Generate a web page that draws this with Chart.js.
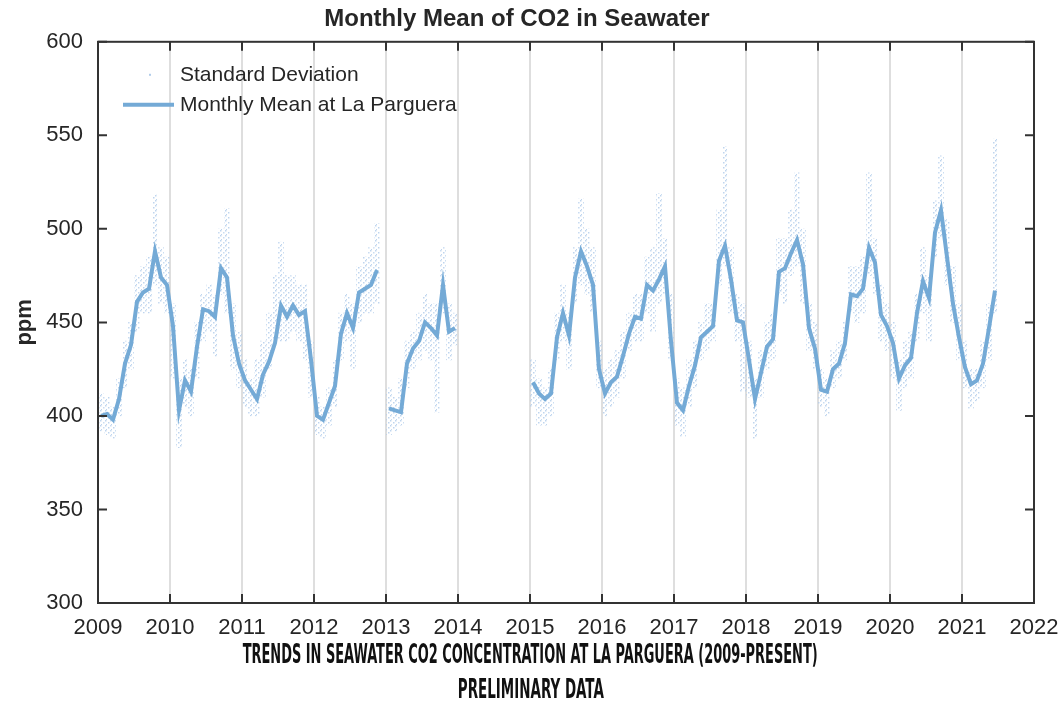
<!DOCTYPE html>
<html>
<head>
<meta charset="utf-8">
<title>Monthly Mean of CO2 in Seawater</title>
<script src="https://cdn.jsdelivr.net/npm/chart.js@4.4.0/dist/chart.umd.min.js"></script>
<style>
  body { margin: 0; background: #fff; }
  #wrap { position: relative; width: 1061px; height: 701px; overflow: hidden; }
  #chartBox { position: absolute; left: 0; top: 0; width: 1061px; height: 645px; }
  .caption { position: absolute; left: 0; width: 1061px; text-align: center; }
  .caption span {
    display: inline-block;
    font-family: "DejaVu Sans Condensed", "DejaVu Sans", sans-serif;
    font-stretch: condensed;
    font-weight: bold;
    font-size: 26px;
    line-height: 26px;
    color: #111;
    transform-origin: center center;
  }
</style>
</head>
<body>
<div id="wrap">
  <div id="chartBox"><canvas id="co2"></canvas></div>
  <div class="caption" id="cap1" style="top:641px"><span>TRENDS IN SEAWATER CO2 CONCENTRATION AT LA PARGUERA (2009-PRESENT)</span></div>
  <div class="caption" id="cap2" style="top:676px"><span>PRELIMINARY DATA</span></div>
</div>
<script>
// years covered, one row of 12 months each
const years = [2009, 2010, 2011, 2012, 2013, 2014, 2015, 2016, 2017, 2018, 2019, 2020, 2021]

// monthly mean pCO2 (ppm), Jan..Dec per year, null = no data
const monthlyMean = [
    400, 401, 398, 409, 428, 438, 461, 466, 468, 488, 474, 470,   // 2009
    448, 403, 419, 413, 437, 457, 456, 453, 479, 474, 443, 428,   // 2010
    419, 414, 409, 422, 429, 439, 459, 453, 459, 454, 456, 430,   // 2011
    400, 398, 407, 416, 444, 455, 447, 466, 468, 470, 478, null,  // 2012
    404, 403, 402, 428, 436, 440, 450, 447, 443, 470, 445, 447,   // 2013
    null, null, null, null, null, null, null, null, null, null, null, null, // 2014
    418, 412, 409, 412, 442, 455, 443, 474, 488, 480, 470, 425,   // 2015
    412, 418, 421, 432, 444, 453, 452, 470, 467, 473, 480, 440,   // 2016
    407, 403, 416, 427, 442, 445, 448, 483, 491, 473, 451, 450,   // 2017
    430, 409, 423, 437, 441, 477, 479, 487, 494, 481, 447, 436,   // 2018
    414, 413, 425, 428, 439, 465, 464, 468, 490, 482, 454, 448,   // 2019
    439, 420, 427, 431, 455, 472, 463, 498, 510, 485, 460, 442,   // 2020
    426, 417, 419, 428, 447, 467, null, null, null, null, null, null // 2021
]

// spread of the standard deviation dots (low / high ppm) per month
const sdLow = [
    392, 390, 388, 400, 415, 425, 445, 455, 455, 470, 460, 455,
    420, 383, 405, 400, 420, 440, 445, 432, 465, 455, 425, 415,
    405, 400, 400, 410, 425, 440, 440, 440, 445, 440, 430, 410,
    390, 388, 395, 405, 430, 440, 425, 450, 455, 455, 460, null,
    390, 392, 395, 415, 425, 430, 435, 430, 402, 455, 430, 438,
    null, null, null, null, null, null, null, null, null, null, null, null,
    405, 395, 395, 400, 430, 440, 425, 460, 470, 465, 455, 415,
    400, 405, 410, 420, 435, 440, 440, 455, 445, 460, 465, 430,
    395, 389, 405, 415, 430, 435, 440, 470, 480, 455, 440, 413,
    410, 388, 410, 425, 430, 465, 460, 475, 480, 460, 435, 425,
    405, 400, 415, 420, 430, 455, 450, 455, 475, 465, 440, 435,
    420, 403, 415, 420, 440, 455, 440, 485, 495, 470, 450, 430,
    415, 404, 408, 415, 430, 455, null, null, null, null, null, null
]
const sdHigh = [
    412, 410, 405, 420, 440, 450, 475, 480, 485, 518, 490, 485,
    460, 420, 430, 425, 450, 465, 470, 465, 500, 511, 460, 445,
    430, 420, 430, 440, 455, 475, 493, 475, 475, 470, 470, 440,
    410, 405, 415, 430, 455, 465, 460, 480, 485, 490, 503, null,
    415, 410, 420, 440, 445, 455, 465, 460, 460, 490, 460, 455,
    null, null, null, null, null, null, null, null, null, null, null, null,
    430, 420, 415, 425, 455, 470, 455, 490, 516, 500, 490, 440,
    425, 430, 435, 445, 455, 465, 465, 485, 490, 519, 495, 465,
    420, 415, 430, 440, 450, 460, 460, 510, 544, 490, 465, 460,
    440, 420, 435, 450, 455, 495, 495, 510, 530, 500, 460, 450,
    425, 420, 435, 440, 450, 480, 480, 485, 530, 495, 470, 460,
    450, 430, 440, 445, 465, 490, 475, 515, 539, 505, 480, 460,
    440, 425, 425, 440, 460, 548, null, null, null, null, null, null
]

const yearTicks = [2009, 2010, 2011, 2012, 2013, 2014, 2015, 2016, 2017, 2018, 2019, 2020, 2021, 2022]
const ppmTicks = [300, 350, 400, 450, 500, 550, 600]

const lineColor = '#74aad6'
const textColor = '#262626'
const fontFam = '"Liberation Sans", Arial, Helvetica, sans-serif'

// month i -> decimal year at mid month
const monthX = i => years[Math.floor(i / 12)] + (i % 12 + 0.5) / 12

const meanPoints = monthlyMean.map((v, i) => ({ x: monthX(i), y: v }))
const sdPoints = []
sdLow.forEach((lo, i) => {
    if (lo !== null && sdHigh[i] !== null) sdPoints.push({ x: monthX(i), y: [lo, sdHigh[i]] })
})

// dotted fill so the spread looks like scattered samples
function dotPattern() {
    const c = document.createElement('canvas')
    c.width = 5
    c.height = 5
    const g = c.getContext('2d')
    g.fillStyle = 'rgba(175,203,234,0.8)'
    g.fillRect(0, 0, 1.5, 1.5)
    g.fillRect(3, 2, 1.5, 1.5)
    g.fillRect(1, 4, 1, 1)
    return g.createPattern(c, 'repeat')
}

// box round the plot with inward ticks, like the original figure
const frame = {
    id: 'frame',
    afterDatasetsDraw(chart) {
        const { ctx, chartArea: a, scales: { x, y } } = chart
        ctx.save()
        ctx.strokeStyle = '#333'
        ctx.lineWidth = 2
        ctx.strokeRect(a.left, a.top, a.right - a.left, a.bottom - a.top)
        ctx.beginPath()
        yearTicks.forEach(t => {
            const px = x.getPixelForValue(t)
            ctx.moveTo(px, a.bottom); ctx.lineTo(px, a.bottom - 9)
            ctx.moveTo(px, a.top); ctx.lineTo(px, a.top + 9)
        })
        ppmTicks.forEach(t => {
            const py = y.getPixelForValue(t)
            ctx.moveTo(a.left, py); ctx.lineTo(a.left + 9, py)
            ctx.moveTo(a.right, py); ctx.lineTo(a.right - 9, py)
        })
        ctx.stroke()
        ctx.restore()
    }
}

// legend sits inside the plot, top left
const insideLegend = {
    id: 'insideLegend',
    afterDraw(chart) {
        const { ctx, chartArea: a } = chart
        const x0 = a.left + 25
        ctx.save()
        ctx.font = '21px ' + fontFam
        ctx.fillStyle = textColor
        ctx.textBaseline = 'middle'
        ctx.fillText(chart.data.datasets[1].label, x0 + 57, a.top + 33)
        ctx.fillText(chart.data.datasets[0].label, x0 + 57, a.top + 63)
        ctx.fillStyle = 'rgba(168,198,232,0.9)'
        ctx.fillRect(x0 + 26, a.top + 32, 2, 2)
        ctx.strokeStyle = lineColor
        ctx.lineWidth = 4
        ctx.beginPath()
        ctx.moveTo(x0, a.top + 63)
        ctx.lineTo(x0 + 51, a.top + 63)
        ctx.stroke()
        ctx.restore()
    }
}

new Chart(document.getElementById('co2'), {
    data: {
        datasets: [
            {
                type: 'line',
                label: 'Monthly Mean at La Parguera',
                data: meanPoints,
                borderColor: lineColor,
                borderWidth: 4,
                pointRadius: 0,
                tension: 0,
                spanGaps: false,
                order: 0
            },
            {
                type: 'bar',
                label: 'Standard Deviation',
                data: sdPoints,
                backgroundColor: dotPattern(),
                borderWidth: 0,
                barThickness: 5,
                order: 1
            }
        ]
    },
    options: {
        responsive: true,
        maintainAspectRatio: false,
        animation: false,
        layout: { padding: { left: 0, right: 27, top: 0, bottom: 0 } },
        plugins: {
            legend: { display: false },
            tooltip: { enabled: false },
            title: {
                display: true,
                text: 'Monthly Mean of CO2 in Seawater',
                color: textColor,
                font: { family: fontFam, size: 24, weight: 'bold' },
                padding: { top: 5, bottom: 8 }
            }
        },
        scales: {
            x: {
                type: 'linear',
                min: 2009,
                max: 2022,
                offset: false,
                afterBuildTicks: s => { s.ticks = yearTicks.map(v => ({ value: v })) },
                afterFit: s => {
                    s.height = 42
                    s.paddingLeft = 0
                    s.paddingRight = 0
                },
                ticks: {
                    color: textColor,
                    font: { family: fontFam, size: 22 },
                    padding: 12,
                    maxRotation: 0,
                    callback: v => String(v)
                },
                grid: { color: '#dedede', lineWidth: 2, drawTicks: false, offset: false },
                border: { display: false }
            },
            y: {
                min: 300,
                max: 600,
                afterBuildTicks: s => { s.ticks = ppmTicks.map(v => ({ value: v })) },
                afterFit: s => { s.width = 98 },
                ticks: {
                    color: textColor,
                    font: { family: fontFam, size: 22 },
                    padding: 15,
                    callback: v => String(v)
                },
                grid: { display: false, drawTicks: false },
                border: { display: false },
                title: {
                    display: true,
                    text: 'ppm',
                    color: textColor,
                    font: { family: fontFam, size: 22, weight: 'bold' },
                    padding: { top: 12, bottom: 0 }
                }
            }
        }
    },
    plugins: [frame, insideLegend]
})

// squeeze the captions to the narrow poster lettering
const capWidths = { cap1: 575, cap2: 146 }
Object.keys(capWidths).forEach(id => {
    const span = document.querySelector('#' + id + ' span')
    const w = span.getBoundingClientRect().width
    span.style.transform = 'scaleX(' + (capWidths[id] / w) + ')'
})
</script>
</body>
</html>
